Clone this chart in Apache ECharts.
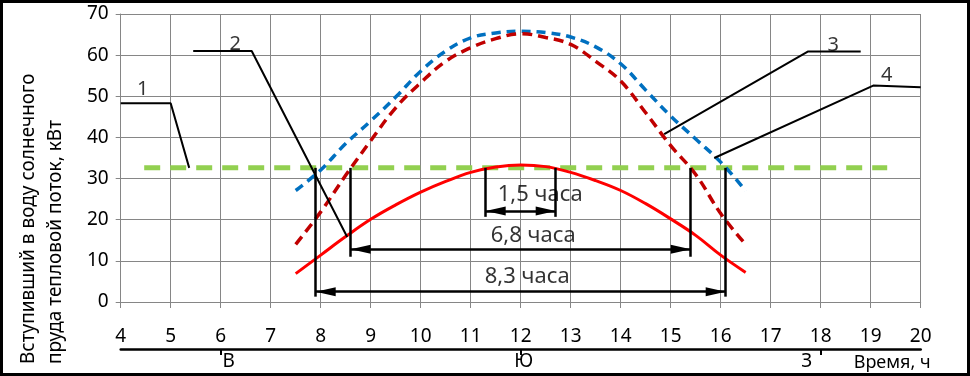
<!DOCTYPE html>
<html>
<head>
<meta charset="utf-8">
<script src="https://cdn.jsdelivr.net/npm/echarts@6/dist/echarts.min.js"></script>
<style>
  html, body { margin: 0; padding: 0; background: #fff; }
  #main { width: 970px; height: 376px; }
</style>
</head>
<body>
<div id="main"></div>
<script>
// время, ч (точки кривых)
var hours = [7.5, 8, 8.5, 9, 9.5, 10, 10.5, 11, 11.5, 12, 12.5, 13, 13.5, 14, 14.5, 15, 15.5, 16, 16.5];
// кривая 4 (синяя пунктирная)
var flowBlue = [27.1, 32.1, 38.5, 44.0, 49.8, 56.1, 61.0, 64.2, 65.4, 65.8, 65.5, 64.4, 62.0, 57.9, 51.5, 45.2, 39.6, 34.0, 27.0];
// кривая 3 (тёмно-красная пунктирная)
var flowDarkRed = [14.0, 21.9, 30.8, 39.2, 47.2, 53.3, 58.5, 61.8, 64.0, 65.2, 64.3, 62.6, 58.5, 53.7, 46.0, 38.0, 31.0, 21.5, 14.0];
// кривая 2 (красная)
var flowRed = [6.9, 11.4, 15.9, 20.1, 23.6, 26.7, 29.3, 31.5, 32.8, 33.3, 32.9, 31.5, 29.5, 27.1, 23.9, 20.2, 16.2, 11.4, 7.2];
// линия 1 (уровень)
var levelLine = [[4.47, 32.6], [19.33, 32.6]];

// интервалы времени
var spanFrom = [7.9, 8.6, 11.3];
var spanTo = [16.1, 15.4, 12.7];
var spanArrowY = [2.5, 12.8, 22.1];
var spanBottom = [1.3, 11.0, 20.7];
var spanText = ['8,3 часа', '6,8 часа', '1,5 часа'];
var spanTextAt = [[12.13, 6.1], [12.25, 16.0], [12.39, 26.0]];

// выноски
var leader1 = [[4.0, 48.3], [5.0, 48.3], [5.37, 32.6]];
var leader2 = [[5.45, 61.0], [6.62, 61.0], [8.53, 15.8]];
var leader3 = [[18.8, 60.9], [17.75, 60.9], [14.87, 40.8]];
var leader4 = [[20.0, 52.2], [19.05, 52.6], [15.87, 35.0]];
var leaderNames = [[4.44, 51.8, '1'], [6.29, 62.7, '2'], [18.25, 62.5, '3'], [19.32, 55.2, '4']];

// стороны света
var compassValues = [6, 12, 18];
var compassNames = ['В', 'Ю', 'З'];

var FONT = 'Noto Sans';
// стрелка: острие в центре символа
var ARROW = 'path://M0,-20L0,-20M0,0L-4.5,20L4.5,20Z';

function zip(xs, ys) {
  return xs.map(function (x, i) { return [x, ys[i]]; });
}

function leaderSeries(pts) {
  return {
    type: 'line', data: pts, symbol: 'none', silent: true, z: 6,
    lineStyle: { color: '#000', width: 2 }
  };
}

var chart = echarts.init(document.getElementById('main'), null, { renderer: 'canvas' });

var markLines = [];
for (var i = 0; i < spanFrom.length; i++) {
  markLines.push([{ coord: [spanFrom[i], spanBottom[i]], symbol: 'none' }, { coord: [spanFrom[i], 32.6], symbol: 'none' }]);
  markLines.push([{ coord: [spanTo[i], spanBottom[i]], symbol: 'none' }, { coord: [spanTo[i], 32.6], symbol: 'none' }]);
  markLines.push([{ coord: [spanFrom[i], spanArrowY[i]], symbol: ARROW }, { coord: [spanTo[i], spanArrowY[i]], symbol: ARROW }]);
}

var textData = spanTextAt.map(function (p, i) { return [p[0], p[1], spanText[i]]; });

var option = {
  animation: false,
  backgroundColor: '#ffffff',
  textStyle: { fontFamily: FONT },
  grid: { left: 120.7, right: 49.3, top: 14, bottom: 74 },
  xAxis: [{
    type: 'value', min: 4, max: 20, interval: 1,
    axisLine: { lineStyle: { color: '#868686', width: 1 } },
    axisTick: { length: 6, lineStyle: { color: '#868686' } },
    splitLine: { lineStyle: { color: '#868686', width: 1 } },
    axisLabel: { color: '#000', fontSize: 19, fontFamily: FONT, margin: 25 }
  }, {
    type: 'value', min: 4, max: 20, position: 'bottom', offset: 47,
    axisLine: { show: true, lineStyle: { color: '#000', width: 2.5 } },
    axisTick: { show: true, length: 6, customValues: compassValues, lineStyle: { color: '#000', width: 2 } },
    splitLine: { show: false },
    axisLabel: {
      show: true, customValues: compassValues, margin: 3,
      color: '#000', fontSize: 19, fontFamily: FONT,
      formatter: function (v) {
        var k = compassValues.indexOf(v);
        return '{c' + k + '|' + compassNames[k] + '}';
      },
      rich: {
        c0: { fontSize: 19, fontFamily: FONT, padding: [0, 0, 0, 16] },
        c1: { fontSize: 19, fontFamily: FONT, padding: [0, 0, 0, 6] },
        c2: { fontSize: 19, fontFamily: FONT, padding: [0, 28, 0, 0] }
      }
    },
    name: 'Время, ч', nameLocation: 'end', nameGap: -67,
    nameTextStyle: { color: '#000', fontSize: 18, fontFamily: FONT, align: 'left', verticalAlign: 'top', padding: [5, 0, 0, 0] }
  }],
  yAxis: {
    type: 'value', min: 0, max: 70, interval: 10,
    axisLine: { show: true, lineStyle: { color: '#868686', width: 1 } },
    axisTick: { show: true, length: 5, lineStyle: { color: '#868686' } },
    splitLine: { lineStyle: { color: '#868686', width: 1 } },
    axisLabel: { color: '#000', fontSize: 19, fontFamily: FONT, margin: 12 }
  },
  series: [
    {
      type: 'line', data: levelLine, symbol: 'none', silent: true, z: 2,
      lineStyle: { color: '#92D050', width: 5, type: [16, 10] }
    },
    {
      type: 'line', data: zip(hours, flowBlue), smooth: 0.4, symbol: 'none', z: 3,
      lineStyle: { color: '#0070C0', width: 3.5, type: [9, 6] }
    },
    {
      type: 'line', data: zip(hours, flowDarkRed), smooth: 0.4, symbol: 'none', z: 3,
      lineStyle: { color: '#C00000', width: 3.5, type: [10, 6] }
    },
    {
      type: 'line', data: zip(hours, flowRed), smooth: 0.4, symbol: 'none', z: 3,
      lineStyle: { color: '#FF0000', width: 3 }
    },
    {
      type: 'line', data: [], symbol: 'none', z: 5,
      markLine: {
        silent: true, animation: false,
        symbolSize: [9, 40],
        label: { show: false },
        lineStyle: { color: '#000', width: 2.5, type: 'solid' },
        data: markLines
      }
    },
    leaderSeries(leader1),
    leaderSeries(leader2),
    leaderSeries(leader3),
    leaderSeries(leader4),
    {
      type: 'scatter', data: textData, symbolSize: 0, silent: true, z: 7,
      label: {
        show: true, position: 'inside', color: '#000', fontSize: 22, fontFamily: FONT,
        formatter: function (p) { return p.value[2]; }
      }
    },
    {
      type: 'scatter', data: leaderNames, symbolSize: 0, silent: true, z: 7,
      label: {
        show: true, position: 'inside', color: '#000', fontSize: 20, fontFamily: FONT,
        formatter: function (p) { return p.value[2]; }
      }
    }
  ],
  graphic: [
    {
      type: 'rect', silent: true, z: 100,
      shape: { x: 1.5, y: 1.5, width: 967, height: 373 },
      style: { fill: 'none', stroke: '#000', lineWidth: 3 }
    },
    {
      type: 'text', x: 29, y: 364, rotation: Math.PI / 2,
      style: { text: 'Вступивший в воду солнечного', fill: '#000', font: '19px "Noto Sans"', textAlign: 'left', textVerticalAlign: 'middle' }
    },
    {
      type: 'text', x: 56, y: 364, rotation: Math.PI / 2,
      style: { text: 'пруда тепловой поток, кВт', fill: '#000', font: '19px "Noto Sans"', textAlign: 'left', textVerticalAlign: 'middle' }
    }
  ]
};

chart.setOption(option);
</script>
</body>
</html>
